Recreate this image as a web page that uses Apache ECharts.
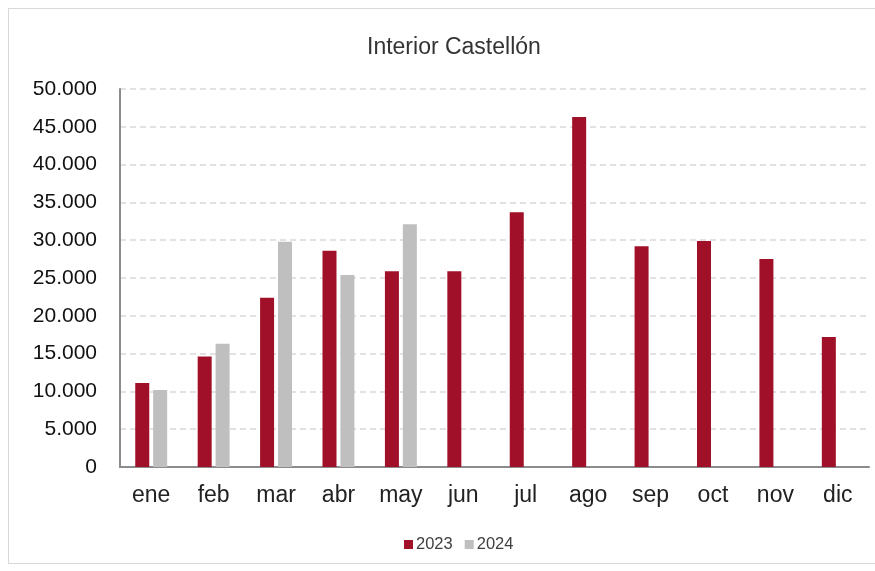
<!DOCTYPE html>
<html>
<head>
<meta charset="utf-8">
<script src="https://cdn.jsdelivr.net/npm/echarts@6/dist/echarts.min.js"></script>
<style>
html, body { margin: 0; padding: 0; background: #fff; }
#frame { position: absolute; left: 8px; top: 8px; width: 880px; height: 556px; border: 1px solid #d9d9d9; box-sizing: border-box; }
#chart { position: absolute; left: 0; top: 0; width: 875px; height: 571px; }
</style>
</head>
<body>
<div id="frame"></div>
<div id="chart"></div>
<script>
var months = ['ene', 'feb', 'mar', 'abr', 'may', 'jun', 'jul', 'ago', 'sep', 'oct', 'nov', 'dic'];
var values2023 = [11100, 14600, 22400, 28600, 25900, 25900, 33700, 46300, 29200, 29900, 27500, 17200];
var values2024 = [10200, 16300, 29800, 25400, 32100, null, null, null, null, null, null, null];
var yTicks = [0, 5000, 10000, 15000, 20000, 25000, 30000, 35000, 40000, 45000, 50000];

function fmt(v) {
    return String(v).replace(/\B(?=(\d{3})+(?!\d))/g, '.');
}

var chart = echarts.init(document.getElementById('chart'));
chart.setOption({
    animation: false,
    textStyle: { fontFamily: 'Liberation Sans, Arial, sans-serif' },
    title: {
        text: 'Interior Castellón',
        left: 362,
        top: 31,
        textStyle: { fontSize: 23, fontWeight: 'normal', color: '#333' }
    },
    legend: {
        bottom: 13,
        left: 399,
        itemWidth: 9,
        itemHeight: 9,
        itemGap: 12,
        icon: 'rect',
        textStyle: { fontSize: 16.5, color: '#404040', padding: [0, 0, 0, -2] },
        data: ['2023', '2024']
    },
    grid: { left: 120, right: 6, top: 89, bottom: 104 },
    xAxis: {
        type: 'category',
        data: months,
        axisLine: { lineStyle: { color: '#8c8c8c', width: 2 } },
        axisTick: { show: false },
        axisLabel: { fontSize: 23, color: '#222', margin: 17 }
    },
    yAxis: {
        type: 'value',
        min: yTicks[0],
        max: yTicks[yTicks.length - 1],
        interval: 5000,
        axisLine: { show: true, lineStyle: { color: '#8c8c8c', width: 2 } },
        axisTick: { show: false },
        axisLabel: { fontSize: 21, color: '#111', margin: 23, formatter: fmt },
        splitLine: { lineStyle: { color: '#d9d9d9', type: [6, 4], width: 1.5 } }
    },
    series: [{
        name: '2023',
        type: 'bar',
        data: values2023,
        barWidth: 14,
        barGap: '28%',
        itemStyle: { color: '#a01028' }
    }, {
        name: '2024',
        type: 'bar',
        data: values2024,
        barWidth: 14,
        itemStyle: { color: '#bfbfbf' }
    }]
});
</script>
</body>
</html>
